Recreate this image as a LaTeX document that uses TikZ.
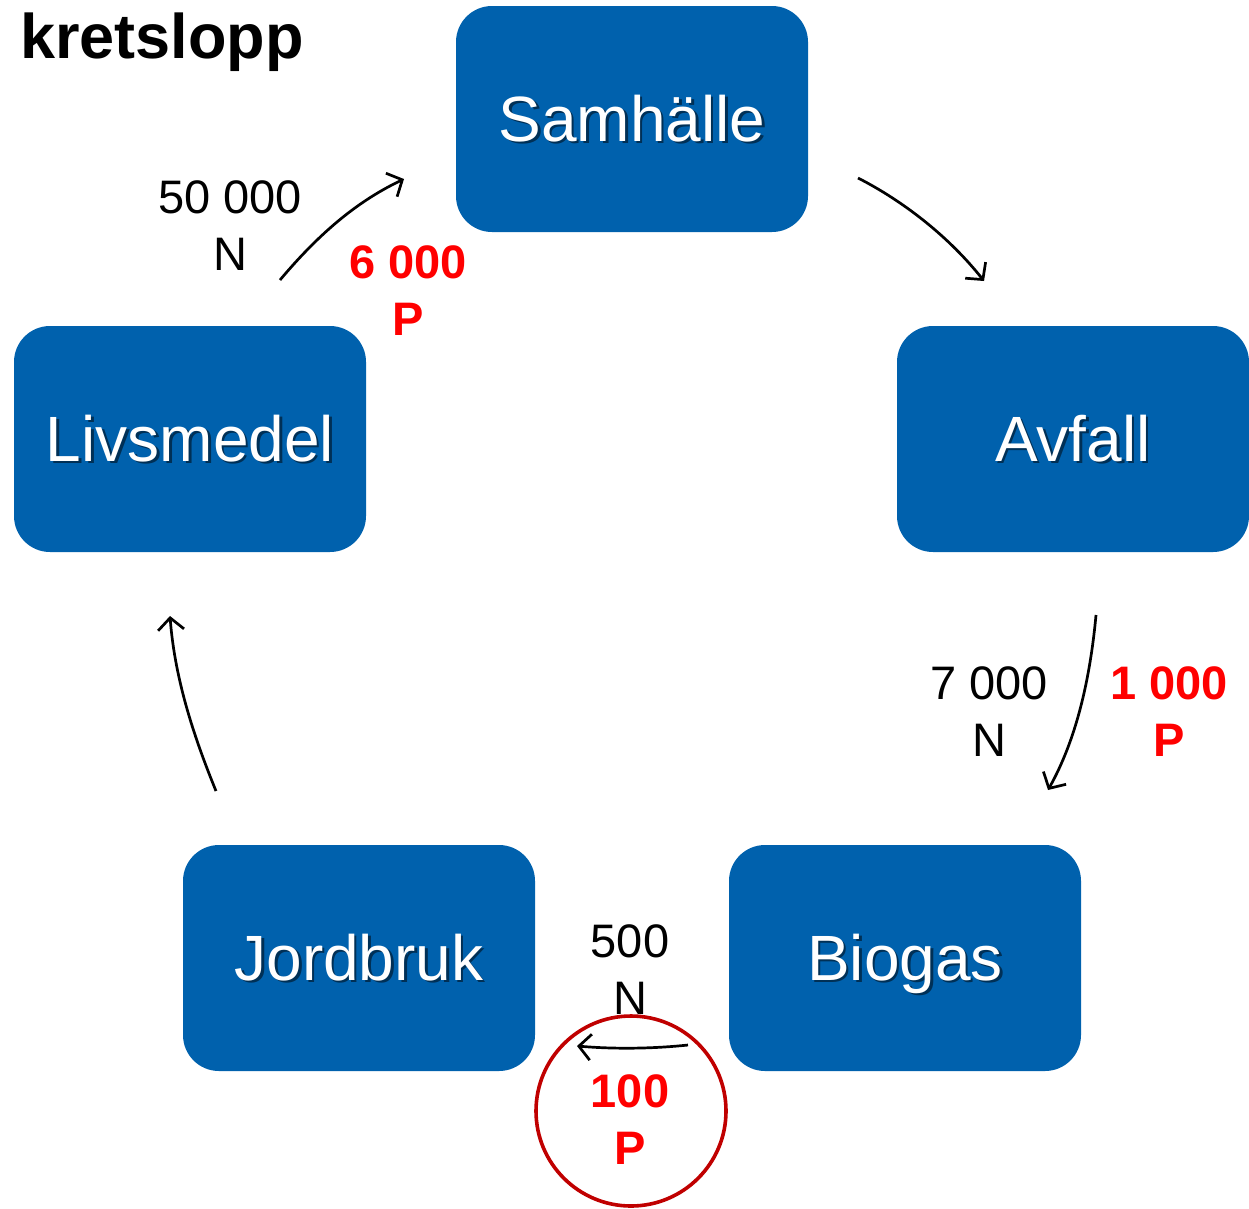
\documentclass[tikz,border=0pt]{standalone}
\usepackage{fontspec}
\setmainfont{Liberation Sans}
\usetikzlibrary{arrows.meta}
\definecolor{boxblue}{RGB}{0,97,173}
\definecolor{circred}{RGB}{192,0,0}
\definecolor{numred}{RGB}{255,0,0}
\colorlet{shadowblue}{boxblue!50!black}
\newcommand{\shadowed}[1]{\makebox[0pt][l]{\hspace{2.5pt}\raisebox{-2.5pt}{\textcolor{shadowblue}{#1}}}#1}
\tikzset{
  box/.style={fill=boxblue, draw=none, rounded corners=36pt, minimum width=352pt, minimum height=226pt, inner sep=0pt},
  boxlabel/.style={text=white, inner sep=0pt, anchor=base, font=\fontsize{64}{70}\selectfont},
  numN/.style={align=center, inner sep=0pt, font=\fontsize{47}{57}\selectfont},
  numP/.style={align=center, inner sep=0pt, text=numred, font=\fontsize{47}{57}\selectfont\bfseries},
  flow/.style={line width=2.7pt, -{Straight Barb[length=12pt,width=26pt]}},
}
\begin{document}
\begin{tikzpicture}[x=1pt,y=-1pt]
\useasboundingbox (0,0) rectangle (1249,1208);
% title
\node[anchor=base west, inner sep=0pt, font=\fontsize{63}{70}\selectfont\bfseries] (title) at (20,58) {kretslopp};
% boxes
\node[box] (sam) at (632,119) {};
\node[box] (liv) at (190,439) {};
\node[box] (avf) at (1073,439) {};
\node[box] (jord) at (359,958) {};
\node[box] (bio) at (905,958) {};
% box labels with shadow
\foreach \n/\t in {sam/Samhälle, liv/Livsmedel, avf/Avfall, jord/Jordbruk, bio/Biogas}{
  \node[boxlabel] (\n t) at ([yshift=-22pt]\n.center) {\shadowed{\t}};
}
% red ring
\node[draw=circred, line width=3.6pt, circle, minimum size=190pt, inner sep=0pt] (ring) at (631,1111) {};
% arrow end points
\coordinate (a1s) at (280,280); \coordinate (a1e) at (404,179);
\coordinate (a2s) at (858,178); \coordinate (a2e) at (984,281);
\coordinate (a3s) at (1096,615); \coordinate (a3e) at (1048,790);
\coordinate (a4s) at (688,1045); \coordinate (a4e) at (577,1046);
\coordinate (a5s) at (216,791); \coordinate (a5e) at (170,616);
\draw[flow] (a1s) .. controls (322,230) and (360,200) .. (a1e);
\draw[flow] (a2s) .. controls (905,202) and (950,238) .. (a2e);
\draw[flow] (a3s) .. controls (1090,680) and (1076,740) .. (a3e);
\draw[flow] (a4s) .. controls (650,1049) and (612,1049) .. (a4e);
\draw[flow] (a5s) .. controls (196,742) and (175,682) .. (a5e);
% numbers
\node[numN] (n1) at (230,225.5) {50 000\\N};
\node[numP] (p1) at (408,291) {6 000\\P};
\node[numN] (n2) at (989,712) {7 000\\N};
\node[numP] (p2) at (1169,712) {1 000\\P};
\node[numN] (n3) at (630,970) {500\\N};
\node[numP] (p3) at (630,1120) {100\\P};
\end{tikzpicture}
\end{document}
